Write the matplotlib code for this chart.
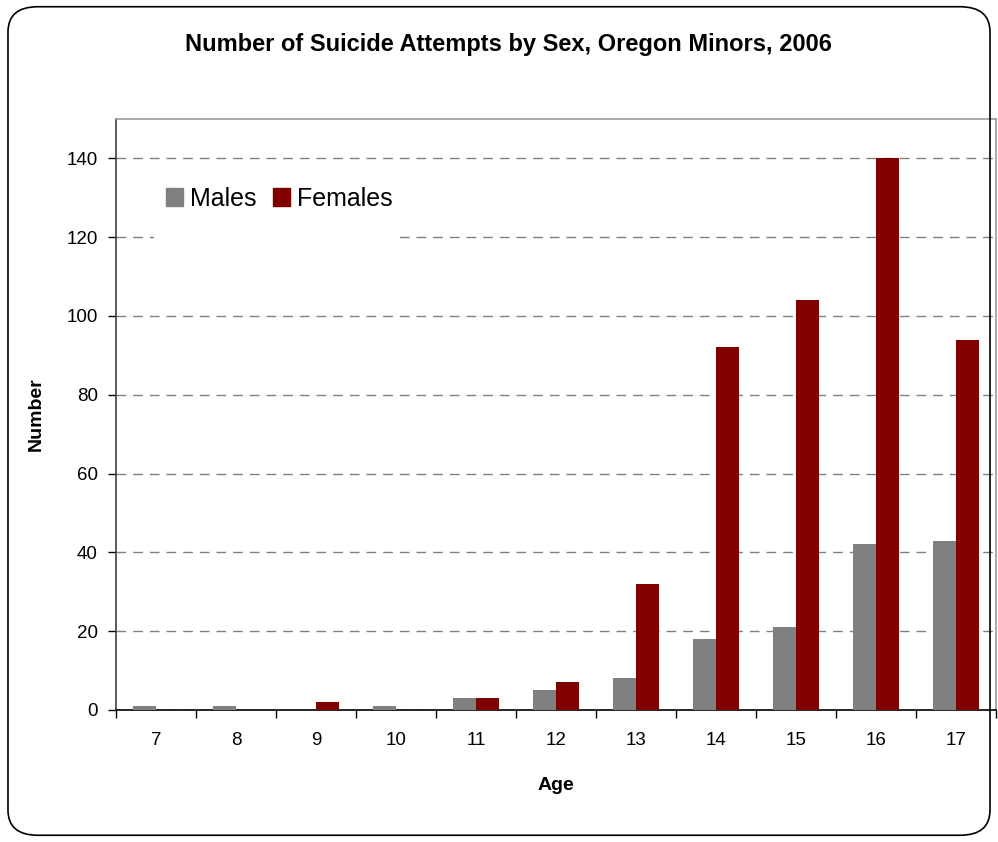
import matplotlib.pyplot as plt
from matplotlib.patches import FancyBboxPatch, Patch, Rectangle
import numpy as np

plt.rcParams['font.family'] = ['Liberation Sans', 'DejaVu Sans']

#%% data
ages = ['7', '8', '9', '10', '11', '12', '13', '14', '15', '16', '17']
males = [1, 1, 0, 1, 3, 5, 8, 18, 21, 42, 43]
females = [0, 0, 2, 0, 3, 7, 32, 92, 104, 140, 94]
yticks = [0, 20, 40, 60, 80, 100, 120, 140]

male_color = '#808080'
female_color = '#800000'

#%% figure
fig = plt.figure(figsize=(9.98, 8.42), dpi=100)
fig.patches.append(FancyBboxPatch((0.008, 0.008), 0.984, 0.984,
                                  boxstyle='round,pad=0,rounding_size=0.03',
                                  transform=fig.transFigure, fill=False,
                                  edgecolor='black', linewidth=1.2))

ax = fig.add_axes([0.1162, 0.1568, 0.8818, 0.7019])

x = np.arange(len(ages))
w = 0.29
ax.bar(x - w / 2, males, w, color=male_color, zorder=3)
ax.bar(x + w / 2, females, w, color=female_color, zorder=3)

ax.set_xlim(-0.5, len(ages) - 0.5)
ax.set_ylim(0, 150)
ax.set_yticks(yticks)
ax.set_xticks(x)
ax.set_xticklabels(ages)
ax.set_xticks(np.arange(len(ages) + 1) - 0.5, minor=True)
ax.tick_params(axis='x', which='major', length=0, pad=16, labelsize=13.5)
ax.tick_params(axis='x', which='minor', length=6, width=1, direction='out')
ax.tick_params(axis='y', length=6, width=1, direction='out', pad=7, labelsize=13.5)

ax.yaxis.grid(True, color='#808080', linestyle=(0, (7, 5)), linewidth=1, zorder=0)
ax.set_axisbelow(True)

ax.spines['left'].set_color('#404040')
ax.spines['bottom'].set_color('black')
ax.spines['top'].set_color('#999999')
ax.spines['right'].set_color('#999999')
for s in ax.spines.values():
    s.set_linewidth(1.2)

ax.set_xlabel('Age', fontweight='bold', fontsize=14, labelpad=20)
ax.set_ylabel('Number', fontweight='bold', fontsize=14, labelpad=16)
fig.text(0.509, 1 - 45 / 842, 'Number of Suicide Attempts by Sex, Oregon Minors, 2006',
         fontweight='bold', fontsize=17, ha='center', va='center')

# white box behind the legend hides the gridlines
ax.add_patch(Rectangle((0.043, 0.787), 0.28, 0.13, transform=ax.transAxes,
                       facecolor='white', edgecolor='none', zorder=2))

handles = [Patch(color=male_color, label='Males'),
           Patch(color=female_color, label='Females')]
leg = ax.legend(handles=handles, loc='center left', bbox_to_anchor=(0.04, 0.865),
                ncol=2, fontsize=18, frameon=False, handlelength=0.68,
                handleheight=0.68, handletextpad=0.28, columnspacing=0.64,
                borderpad=0.6, borderaxespad=0)
leg.set_zorder(5)

plt.savefig('out.png', dpi=100)
